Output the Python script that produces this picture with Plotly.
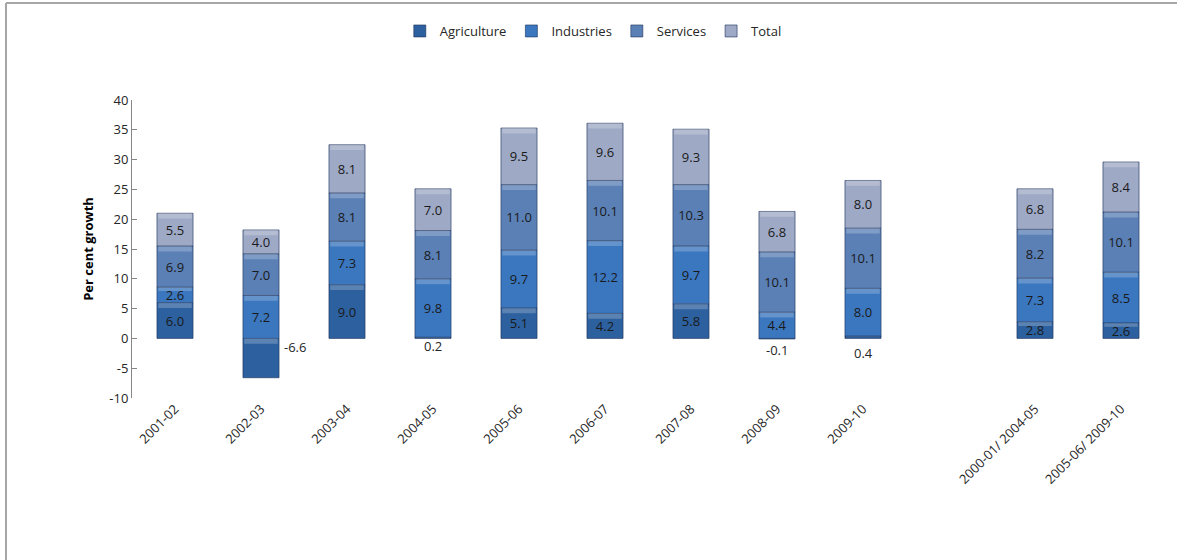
import plotly.graph_objects as go

# Sector-wise growth, per cent
categories = ["2001-02", "2002-03", "2003-04", "2004-05", "2005-06", "2006-07",
              "2007-08", "2008-09", "2009-10", "", "2000-01/ 2004-05", "2005-06/ 2009-10"]
agriculture = [6.0, -6.6, 9.0, 0.2, 5.1, 4.2, 5.8, -0.1, 0.4, None, 2.8, 2.6]
industries = [2.6, 7.2, 7.3, 9.8, 9.7, 12.2, 9.7, 4.4, 8.0, None, 7.3, 8.5]
services = [6.9, 7.0, 8.1, 8.1, 11.0, 10.1, 10.3, 10.1, 10.1, None, 8.2, 10.1]
total = [5.5, 4.0, 8.1, 7.0, 9.5, 9.6, 9.3, 6.8, 8.0, None, 6.8, 8.4]

y_ticks = [-10, -5, 0, 5, 10, 15, 20, 25, 30, 35, 40]
y_tick_text = ["-10", "-5", "0", "5", "10", "15", "20", "25", "30", "35", "40"]

series = [
    ("Agriculture", agriculture, "#2c609f"),
    ("Industries", industries, "#3a77bf"),
    ("Services", services, "#5b80b6"),
    ("Total", total, "#9ea9c5"),
]

FONT = "Open Sans"
BAR_W = 0.42
x_pos = list(range(len(categories)))

# labels for tiny / negative agriculture segments sit outside the bar
outside_offsets = {1: (34, -1.5), 3: (0, -1.2), 7: (0, -2.0), 8: (0, -2.5)}

fig = go.Figure()
pos_base = [0.0] * len(categories)
neg_base = [0.0] * len(categories)
annotations = []
segments = []  # (x, bottom, height) for the bevel overlay

for name, vals, color in series:
    bases, heights, texts = [], [], []
    for i, v in enumerate(vals):
        if v is None:
            bases.append(None)
            heights.append(None)
            texts.append("")
            continue
        if v >= 0:
            b = pos_base[i]
            pos_base[i] += v
        else:
            b = neg_base[i] + v
            neg_base[i] += v
        bases.append(b)
        heights.append(abs(v))
        segments.append((i, b, abs(v)))
        if name == "Agriculture" and i in outside_offsets:
            dx, yv = outside_offsets[i]
            annotations.append(dict(x=i, y=yv, xref="x", yref="y", text=f"{v:.1f}",
                                    showarrow=False, xshift=dx,
                                    font=dict(family=FONT, size=13, color="#262626")))
            texts.append("")
        else:
            texts.append(f"{v:.1f}")
    fig.add_trace(go.Bar(
        name=name, x=x_pos, y=heights, base=bases, width=BAR_W,
        marker=dict(color=color, line=dict(color="rgba(30,50,90,0.6)", width=1)),
        text=texts, textposition="inside", insidetextanchor="middle",
        textangle=0, textfont=dict(family=FONT, size=13, color="#1a1a1a"),
        hoverinfo="skip",
    ))

# bevel: soft light strip along the top edge of each segment
top_x, top_b, top_h = [], [], []
for i, b, h in segments:
    th = min(0.9, h * 0.25)
    top_x.append(i); top_b.append(b + h - th); top_h.append(th)

fig.add_trace(go.Bar(x=top_x, y=top_h, base=top_b, width=BAR_W - 0.03,
                     marker=dict(color="rgba(255,255,255,0.22)", line=dict(width=0)),
                     showlegend=False, hoverinfo="skip"))

fig.update_layout(
    barmode="overlay",
    width=1177, height=560,
    margin=dict(l=132, r=13, t=100, b=162, autoexpand=False),
    paper_bgcolor="white", plot_bgcolor="white",
    font=dict(family=FONT, size=13, color="#262626"),
    uniformtext=dict(minsize=13, mode="show"),
    showlegend=True,
    legend=dict(orientation="h", x=0.447, xanchor="center", y=1.2315, yanchor="middle",
                bgcolor="rgba(0,0,0,0)",
                font=dict(family=FONT, size=13, color="#262626"),
                itemwidth=30, traceorder="normal"),
    annotations=annotations,
    xaxis=dict(range=[-0.5, len(categories) - 0.5], tickmode="array",
               tickvals=x_pos, ticktext=categories, tickangle=-45,
               showline=False, ticks="", showgrid=False, zeroline=False,
               tickfont=dict(family=FONT, size=13, color="#262626")),
    xaxis2=dict(overlaying="x", matches="x", anchor="free", position=0.2,
                range=[-0.5, len(categories) - 0.5], tickmode="array",
                tickvals=[i - 0.5 for i in range(len(categories) + 1)],
                showticklabels=False, showline=True, linecolor="#868686",
                ticks="outside", ticklen=5, tickcolor="#868686",
                showgrid=False, zeroline=False),
    yaxis=dict(range=[-10, 40], tickmode="array", tickvals=y_ticks, ticktext=y_tick_text,
               showline=True, linecolor="#868686", ticks="inside", ticklen=5,
               tickcolor="#868686", showgrid=False, zeroline=False,
               tickfont=dict(family=FONT, size=13, color="#262626"),
               title=dict(text="<b>Per cent growth</b>", standoff=12,
                          font=dict(family=FONT, size=13, color="#000000"))),
    shapes=[
        dict(type="line", xref="paper", yref="paper", x0=-0.1221, x1=1.05,
             y0=1.3255, y1=1.3255, line=dict(color="#a6a6a6", width=2)),
        dict(type="line", xref="paper", yref="paper", x0=-0.1221, x1=-0.1221,
             y0=1.3255, y1=-0.6, line=dict(color="#a6a6a6", width=2)),
    ],
)

fig.write_html("out.html")
